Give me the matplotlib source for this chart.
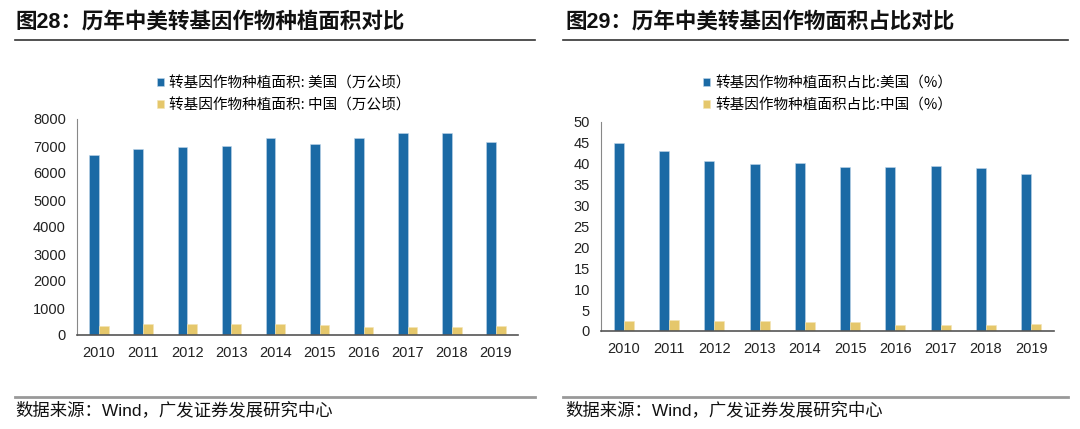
import matplotlib
matplotlib.use("Agg")
import matplotlib.pyplot as plt
import numpy as np

plt.rcParams['font.family'] = ['Liberation Sans', 'Noto Sans CJK SC', 'DejaVu Sans']

# 数据
years = ['2010', '2011', '2012', '2013', '2014', '2015', '2016', '2017', '2018', '2019']
area_us = [6680, 6900, 6950, 7010, 7310, 7090, 7290, 7500, 7500, 7150]
area_cn = [350, 390, 400, 420, 390, 370, 280, 280, 290, 320]
share_us = [44.9, 43.0, 40.7, 40.0, 40.2, 39.3, 39.3, 39.5, 39.0, 37.5]
share_cn = [2.4, 2.6, 2.4, 2.4, 2.1, 2.1, 1.5, 1.5, 1.5, 1.75]

label_area_us = '转基因作物种植面积: 美国（万公顷）'
label_area_cn = '转基因作物种植面积: 中国（万公顷）'
label_share_us = '转基因作物种植面积占比:美国（%）'
label_share_cn = '转基因作物种植面积占比:中国（%）'

BLUE = '#1B6AA5'
YELLOW = '#E5C76B'
W, H = 1080, 429

fig = plt.figure(figsize=(W / 100, H / 100), dpi=100)


def px(x, y):
    return x / W, 1 - y / H


def panel(rect, us, cn, lab_us, lab_cn, ymax, step, leg_xy):
    ax = fig.add_axes(rect)
    x = np.arange(len(years))
    b1 = ax.bar(x - 0.11, us, width=0.22, color=BLUE, edgecolor='#BFD6EA', linewidth=0.4, label=lab_us)
    b2 = ax.bar(x + 0.11, cn, width=0.22, color=YELLOW, edgecolor='#F3E4B5', linewidth=0.4, label=lab_cn)
    ax.set_xlim(-0.5, len(years) - 0.5)
    ax.set_ylim(0, ymax)
    ax.set_yticks(np.arange(0, ymax + step / 2, step))
    ax.set_xticks(x)
    ax.set_xticklabels(years)
    ax.tick_params(axis='both', length=0, labelsize=10.5, colors='#222222')
    ax.tick_params(axis='x', pad=8)
    ax.tick_params(axis='y', pad=8)
    for s in ['top', 'right']:
        ax.spines[s].set_visible(False)
    ax.spines['left'].set_color('#888888')
    ax.spines['bottom'].set_color('#555555')
    ax.spines['bottom'].set_linewidth(1.2)
    fig.legend(handles=[b1, b2], loc='upper left', bbox_to_anchor=px(*leg_xy),
               frameon=False, handlelength=0.5, handleheight=0.5,
               handletextpad=0.35, labelspacing=0.55, borderpad=0, borderaxespad=0,
               prop={'family': ['Noto Sans CJK SC'], 'size': 10.5})
    return ax


bx0, bt = px(77, 335)
_, tt = px(77, 119)
panel([bx0, bt, 441 / W, tt - bt], area_us, area_cn, label_area_us, label_area_cn, 8000, 1000, (157, 76))

bx1, bt1 = px(601, 331)
_, tt1 = px(601, 122)
panel([bx1, bt1, 453 / W, tt1 - bt1], share_us, share_cn, label_share_us, label_share_cn, 50, 5, (703, 76))

# 标题与横线
title_font = ['Liberation Sans', 'Noto Sans CJK SC']
fig.text(*px(15, 22), '图28：历年中美转基因作物种植面积对比', fontsize=15.5, fontweight='bold',
         va='center', ha='left', family=title_font, color='#111111')
fig.text(*px(565, 22), '图29：历年中美转基因作物面积占比对比', fontsize=15.5, fontweight='bold',
         va='center', ha='left', family=title_font, color='#111111')

for x0, x1 in [(15, 535), (563, 1068)]:
    fig.add_artist(plt.Line2D([x0 / W, x1 / W], [1 - 40 / H] * 2, color='#333333', linewidth=1.2))
    fig.add_artist(plt.Line2D([x0 / W, x1 / W], [1 - 397 / H] * 2, color='#999999', linewidth=2))

for x0 in [15, 565]:
    fig.text(*px(x0, 410), '数据来源：Wind，广发证券发展研究中心', fontsize=12.5, va='center', ha='left',
             family=['Liberation Sans', 'Noto Sans CJK SC'], color='#111111')

fig.savefig('out.png', dpi=100)
